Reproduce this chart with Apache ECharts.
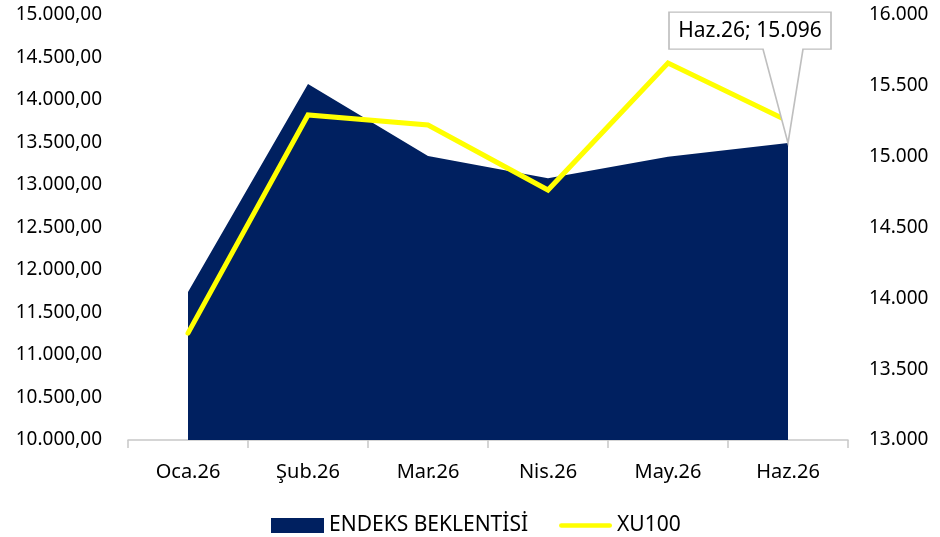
<!DOCTYPE html>
<html>
<head>
<meta charset="utf-8">
<script src="https://cdn.jsdelivr.net/npm/echarts@6/dist/echarts.min.js"></script>
<style>
html,body{margin:0;padding:0;background:#fff;}
#chart{width:940px;height:537px;}
</style>
</head>
<body>
<div id="chart"></div>
<script>
const categories = ['Oca.26', 'Şub.26', 'Mar.26', 'Nis.26', 'May.26', 'Haz.26'];
const endeksBeklentisi = [14045, 15513, 15005, 14847, 15000, 15096];
const xu100 = [11257, 13824, 13706, 12941, 14435, 13753];
const seriesNames = ['ENDEKS BEKLENTİSİ', 'XU100'];
const calloutIndex = 5;

const FONT = 'Noto Sans';
const FS = 19;

function fmtThousands(v) {
  return String(Math.round(v)).replace(/\B(?=(\d{3})+(?!\d))/g, '.');
}
function fmtLeft(v) {
  return fmtThousands(Math.floor(v)) + ',' + (Math.round((v % 1) * 100) + '').padStart(2, '0');
}

const chart = echarts.init(document.getElementById('chart'), null, {renderer: 'canvas'});
chart.setOption({
  animation: false,
  backgroundColor: '#fff',
  textStyle: {fontFamily: FONT},
  grid: {left: 128, right: 92, top: 15, bottom: 97, containLabel: false},
  legend: {
    top: 510,
    left: 266,
    itemGap: 31,
    itemWidth: 53,
    itemHeight: 15,
    textStyle: {fontFamily: FONT, fontSize: 21, color: '#000'},
    data: [
      {name: seriesNames[0], icon: 'rect'},
      {name: seriesNames[1], icon: 'path://M2.5,0 L53.5,0 A2.5,2.5 0 0 1 53.5,5 L2.5,5 A2.5,2.5 0 0 1 2.5,0 Z'}
    ]
  },
  xAxis: {
    type: 'category',
    data: categories,
    boundaryGap: true,
    axisLine: {show: true, lineStyle: {color: '#c8c8c8', width: 1.5}},
    axisTick: {show: true, interval: 0, length: 8, lineStyle: {color: '#c8c8c8', width: 1.5}},
    axisLabel: {fontFamily: FONT, fontSize: 20, color: '#000', margin: 22, interval: 0},
    splitLine: {show: false}
  },
  yAxis: [
    {
      type: 'value',
      position: 'left',
      min: 10000, max: 15000, interval: 500,
      axisLine: {show: false},
      axisTick: {show: false},
      splitLine: {show: false},
      axisLabel: {fontFamily: FONT, fontSize: FS, color: '#000', margin: 26, formatter: fmtLeft}
    },
    {
      type: 'value',
      position: 'right',
      min: 13000, max: 16000, interval: 500,
      axisLine: {show: false},
      axisTick: {show: false},
      splitLine: {show: false},
      axisLabel: {fontFamily: FONT, fontSize: FS, color: '#000', margin: 21, formatter: fmtThousands}
    }
  ],
  series: [
    {
      name: seriesNames[0],
      type: 'line',
      yAxisIndex: 1,
      data: endeksBeklentisi,
      symbol: 'none',
      lineStyle: {width: 0, color: '#002060'},
      itemStyle: {color: '#002060'},
      areaStyle: {color: '#002060', opacity: 1},
      z: 1,
      markPoint: {
        z: 5,
        symbol: 'path://M0,0 L162,0 L162,37 L134,37 L119,131 L94,37 L0,37 Z',
        symbolSize: [162, 131],
        symbolKeepAspect: false,
        symbolOffset: [-38, -65.5],
        itemStyle: {color: '#fff', borderColor: '#bfbfbf', borderWidth: 1.5},
        label: {
          show: true,
          position: 'inside',
          offset: [0, -47],
          fontFamily: FONT,
          fontSize: 21,
          color: '#000',
          formatter: function () {
            return categories[calloutIndex] + '; ' + fmtThousands(endeksBeklentisi[calloutIndex]);
          }
        },
        data: [{coord: [categories[calloutIndex], endeksBeklentisi[calloutIndex]]}]
      }
    },
    {
      name: seriesNames[1],
      type: 'line',
      yAxisIndex: 0,
      data: xu100,
      symbol: 'none',
      lineStyle: {width: 5, color: '#ffff00', cap: 'round', join: 'miter'},
      itemStyle: {color: '#ffff00'},
      z: 2
    }
  ]
});
</script>
</body>
</html>
